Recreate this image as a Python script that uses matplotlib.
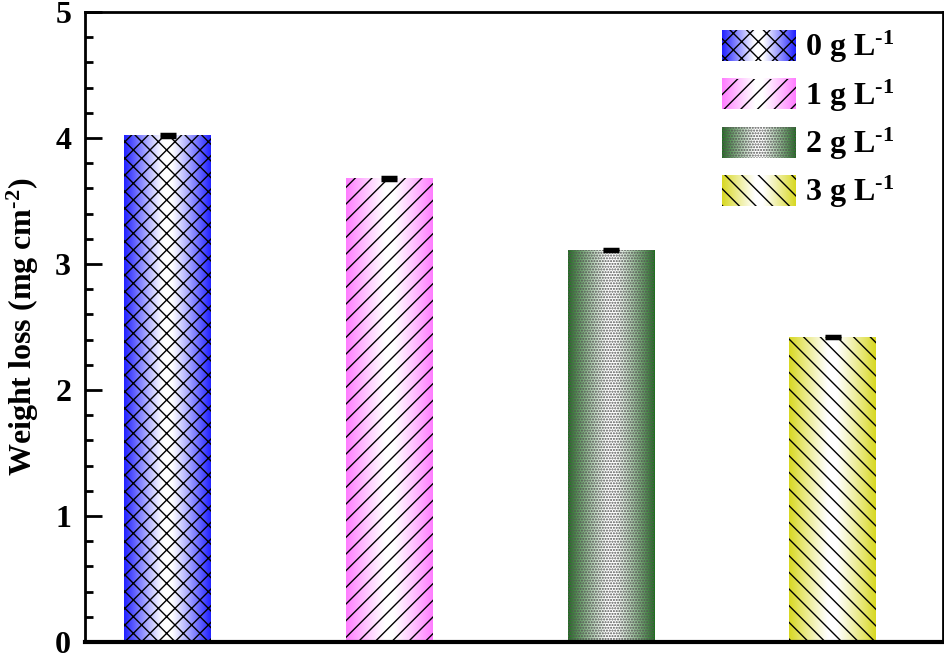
import numpy as np
import matplotlib
matplotlib.use("Agg")
import matplotlib.pyplot as plt
from matplotlib.patches import Rectangle
from matplotlib.legend_handler import HandlerBase
from matplotlib.image import BboxImage
from matplotlib.transforms import Bbox, TransformedBbox
from matplotlib.colors import to_rgb

# data
labels = [r"0 g L$^{\text{-1}}$", r"1 g L$^{\text{-1}}$", r"2 g L$^{\text{-1}}$", r"3 g L$^{\text{-1}}$"]
weight_loss = [4.02, 3.68, 3.11, 2.42]
errors = [0.01, 0.01, 0.01, 0.01]
colors = ["#2020ff", "#ff7dff", "#1e6e1e", "#d8d822"]
hatches = ["xx", "//", "......", "\\\\"]

plt.rcParams["font.family"] = ["Liberation Serif", "DejaVu Serif"]
plt.rcParams["font.weight"] = "bold"
plt.rcParams["mathtext.fontset"] = "custom"
plt.rcParams["mathtext.rm"] = "Liberation Serif:bold"
plt.rcParams["mathtext.bf"] = "Liberation Serif:bold"
plt.rcParams["mathtext.default"] = "rm"
plt.rcParams["hatch.linewidth"] = 1.0


def gradient(color, n=200):
    # colour at both edges, white in the middle
    c = np.array(to_rgb(color))
    t = np.abs(np.linspace(-1, 1, n))
    t = np.clip((t - 0.1) / 0.9, 0, 1) ** 1.1
    img = (1 - t)[:, None] * np.ones(3) + t[:, None] * c
    return img[None, :, :]


class GradHandler(HandlerBase):
    def __init__(self, color, hatch, hatch_color):
        super().__init__()
        self.color = color
        self.hatch = hatch
        self.hatch_color = hatch_color

    def create_artists(self, legend, orig_handle, xdescent, ydescent,
                       width, height, fontsize, trans):
        bb = TransformedBbox(Bbox.from_bounds(-xdescent, -ydescent, width, height), trans)
        im = BboxImage(bb, interpolation="bilinear")
        im.set_data(gradient(self.color))
        r = Rectangle((-xdescent, -ydescent), width, height, facecolor="none",
                      edgecolor=self.hatch_color, hatch=self.hatch, lw=0,
                      transform=trans)
        return [im, r]


fig = plt.figure(figsize=(9.45, 6.54), dpi=100)
ax = fig.add_axes([0.09, 0.0183, 0.908, 0.9634])

x = np.arange(1, 5)
w = 0.392
handles = []
for i in range(4):
    hc = "#555555" if hatches[i].startswith(".") else "black"
    ax.imshow(gradient(colors[i]), extent=(x[i] - w / 2, x[i] + w / 2, 0, weight_loss[i]),
              aspect="auto", interpolation="bilinear", zorder=1)
    b = ax.bar(x[i], weight_loss[i], w, facecolor="none", edgecolor=hc,
               hatch=hatches[i], lw=0, zorder=2)
    handles.append(b[0])
ax.errorbar(x, weight_loss, yerr=errors, fmt="none", ecolor="black",
            elinewidth=1.5, capsize=6, capthick=2.5, zorder=3)

ax.set_xlim(0.628, 4.498)
ax.set_ylim(0, 5)
ax.set_xticks([])
ax.set_yticks(range(6))
ax.set_yticks(np.arange(0, 5.01, 0.2), minor=True)
ax.tick_params(axis="y", which="major", direction="in", length=12, width=2,
               labelsize=23, pad=10)
ax.tick_params(axis="y", which="minor", direction="in", length=6, width=2)
for s in ax.spines.values():
    s.set_linewidth(2)
ax.spines["bottom"].set_linewidth(3)
ax.set_ylabel(r"Weight loss (mg cm$^{\text{-2}}$)", fontsize=23, fontweight="bold", labelpad=10)

hmap = {}
for i, h in enumerate(handles):
    hc = "#555555" if hatches[i].startswith(".") else "black"
    hmap[h] = GradHandler(colors[i], hatches[i], hc)
ax.legend(handles, labels, handler_map=hmap, loc="upper right", frameon=False,
          fontsize=23, handlelength=2.29, handleheight=1.1, handletextpad=0.3,
          labelspacing=0.38, borderpad=0.4, borderaxespad=0,
          bbox_to_anchor=(0.958, 0.993))

fig.savefig("out.png", dpi=100)
